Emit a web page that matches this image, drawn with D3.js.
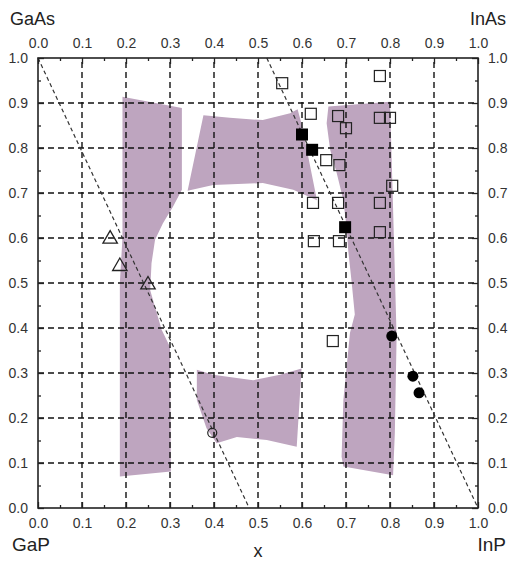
<!DOCTYPE html>
<html>
<head>
<meta charset="utf-8">
<script src="https://cdn.jsdelivr.net/npm/d3@7"></script>
<style>
  body { margin: 0; background: #fff; }
  text { font-family: "Liberation Sans", Arial, sans-serif; fill: #222; }
</style>
</head>
<body>
<div id="chart"></div>
<script>
// tick values, shared by all four axes
var tickValues = [0, 0.1, 0.2, 0.3, 0.4, 0.5, 0.6, 0.7, 0.8, 0.9, 1.0];
var minorTicks = [0.05, 0.15, 0.25, 0.35, 0.45, 0.55, 0.65, 0.75, 0.85, 0.95];

// shaded (miscibility gap) regions, [x, y]
var bandLeft = [[0.192, 0.914], [0.327, 0.889], [0.327, 0.707], [0.307, 0.67], [0.284, 0.633],
  [0.266, 0.596], [0.258, 0.544], [0.255, 0.484], [0.281, 0.396], [0.3, 0.358],
  [0.302, 0.081], [0.186, 0.07], [0.186, 0.5], [0.192, 0.6]];
var bridgeTop = [[0.376, 0.873], [0.436, 0.867], [0.511, 0.862], [0.573, 0.877], [0.59, 0.886],
  [0.6, 0.85], [0.634, 0.684], [0.58, 0.707], [0.511, 0.722], [0.398, 0.718], [0.34, 0.705]];
var bandRight = [[0.66, 0.892], [0.8, 0.903], [0.806, 0.7], [0.815, 0.38], [0.811, 0.167],
  [0.807, 0.073], [0.694, 0.092], [0.69, 0.114], [0.694, 0.24], [0.709, 0.389], [0.72, 0.43],
  [0.713, 0.5], [0.705, 0.573], [0.702, 0.618], [0.694, 0.684], [0.679, 0.744],
  [0.664, 0.796], [0.656, 0.855]];
var bridgeBottom = [[0.361, 0.307], [0.398, 0.296], [0.489, 0.284], [0.55, 0.296], [0.599, 0.31],
  [0.588, 0.136], [0.52, 0.151], [0.452, 0.158], [0.406, 0.144], [0.383, 0.177], [0.361, 0.24]];

// dashed guide lines
var guideA = [[0, 1.0], [0.48, 0.0]];
var guideB = [[0.52, 1.0], [1.0, 0.0]];

// measured points
var openSquares = [[0.555, 0.944], [0.777, 0.96], [0.62, 0.876], [0.682, 0.871], [0.70, 0.844],
  [0.777, 0.867], [0.80, 0.867], [0.655, 0.773], [0.685, 0.762], [0.805, 0.716],
  [0.625, 0.678], [0.682, 0.678], [0.777, 0.678], [0.777, 0.613], [0.627, 0.593],
  [0.684, 0.593], [0.67, 0.371]];
var filledSquares = [[0.6, 0.83], [0.623, 0.796], [0.698, 0.624]];
var filledCircles = [[0.804, 0.382], [0.852, 0.293], [0.866, 0.256]];
var openTriangles = [[0.164, 0.598], [0.186, 0.537], [0.25, 0.496]];
var openCircles = [[0.396, 0.167]];

var W = 511, H = 562;
var mLeft = 38, mTop = 58, pw = 440, ph = 450;

var svg = d3.select("#chart").append("svg")
    .attr("width", W)
    .attr("height", H);

var x = d3.scaleLinear().domain([0, 1]).range([mLeft, mLeft + pw]);
var y = d3.scaleLinear().domain([0, 1]).range([mTop + ph, mTop]);

// shaded regions
var area = d3.line().x(function(d) { return x(d[0]); }).y(function(d) { return y(d[1]); })
    .curve(d3.curveLinearClosed);
svg.append("g").selectAll("path")
    .data([bandLeft, bridgeTop, bandRight, bridgeBottom])
    .enter().append("path")
    .attr("d", area)
    .style("fill", "#bea5bf")
    .style("stroke", "none");

// dashed grid
var inner = tickValues.slice(1, 10);
svg.append("g").selectAll("line.v").data(inner).enter().append("line")
    .attr("x1", function(d) { return x(d); })
    .attr("x2", function(d) { return x(d); })
    .attr("y1", y(0)).attr("y2", y(1))
    .style("stroke", "#111").style("stroke-width", 1.4)
    .style("stroke-dasharray", "6,4");
svg.append("g").selectAll("line.h").data(inner).enter().append("line")
    .attr("y1", function(d) { return y(d); })
    .attr("y2", function(d) { return y(d); })
    .attr("x1", x(0)).attr("x2", x(1))
    .style("stroke", "#111").style("stroke-width", 1.4)
    .style("stroke-dasharray", "6,4");

// diagonal guides
var line = d3.line().x(function(d) { return x(d[0]); }).y(function(d) { return y(d[1]); });
svg.append("g").selectAll("path").data([guideA, guideB]).enter().append("path")
    .attr("d", line)
    .style("fill", "none").style("stroke", "#333").style("stroke-width", 1.2)
    .style("stroke-dasharray", "4,3");

// axes: all ticks point inward
function styleAxis(g) {
  g.select(".domain").remove();
  g.selectAll("line").style("stroke", "#222").style("stroke-width", 1.3);
  g.selectAll("text").style("font-size", "14px").style("fill", "#333");
}
var fmt = d3.format(".1f");

svg.append("g").attr("transform", "translate(0," + y(0) + ")")
    .call(d3.axisBottom(x).tickValues(tickValues).tickFormat(fmt).tickSizeInner(-6).tickSizeOuter(0).tickPadding(10))
    .call(styleAxis);
svg.append("g").attr("transform", "translate(0," + y(1) + ")")
    .call(d3.axisTop(x).tickValues(tickValues).tickFormat(fmt).tickSizeInner(-6).tickSizeOuter(0).tickPadding(10))
    .call(styleAxis);
svg.append("g").attr("transform", "translate(" + x(0) + ",0)")
    .call(d3.axisLeft(y).tickValues(tickValues).tickFormat(fmt).tickSizeInner(-6).tickSizeOuter(0).tickPadding(10))
    .call(styleAxis);
svg.append("g").attr("transform", "translate(" + x(1) + ",0)")
    .call(d3.axisRight(y).tickValues(tickValues).tickFormat(fmt).tickSizeInner(-6).tickSizeOuter(0).tickPadding(10))
    .call(styleAxis);

// minor ticks
[["axisBottom", y(0)], ["axisTop", y(1)]].forEach(function(a) {
  svg.append("g").attr("transform", "translate(0," + a[1] + ")")
      .call(d3[a[0]](x).tickValues(minorTicks).tickFormat("").tickSizeInner(-3).tickSizeOuter(0))
      .call(styleAxis);
});
[["axisLeft", x(0)], ["axisRight", x(1)]].forEach(function(a) {
  svg.append("g").attr("transform", "translate(" + a[1] + ",0)")
      .call(d3[a[0]](y).tickValues(minorTicks).tickFormat("").tickSizeInner(-3).tickSizeOuter(0))
      .call(styleAxis);
});

// frame
svg.append("rect")
    .attr("x", x(0)).attr("y", y(1))
    .attr("width", x(1) - x(0)).attr("height", y(0) - y(1))
    .style("fill", "none").style("stroke", "#222").style("stroke-width", 1.6);

// markers
var sq = 11;
svg.append("g").selectAll("rect").data(openSquares).enter().append("rect")
    .attr("x", function(d) { return x(d[0]) - sq / 2; })
    .attr("y", function(d) { return y(d[1]) - sq / 2; })
    .attr("width", sq).attr("height", sq)
    .style("fill", "none").style("stroke", "#222").style("stroke-width", 1.2);
svg.append("g").selectAll("rect").data(filledSquares).enter().append("rect")
    .attr("x", function(d) { return x(d[0]) - 6; })
    .attr("y", function(d) { return y(d[1]) - 6; })
    .attr("width", 12).attr("height", 12)
    .style("fill", "#000");
svg.append("g").selectAll("circle").data(filledCircles).enter().append("circle")
    .attr("cx", function(d) { return x(d[0]); })
    .attr("cy", function(d) { return y(d[1]); })
    .attr("r", 5.5).style("fill", "#000");
var tri = d3.symbol().type(d3.symbolTriangle).size(90);
svg.append("g").selectAll("path").data(openTriangles).enter().append("path")
    .attr("d", tri)
    .attr("transform", function(d) { return "translate(" + x(d[0]) + "," + y(d[1]) + ")"; })
    .style("fill", "none").style("stroke", "#222").style("stroke-width", 1.3);
svg.append("g").selectAll("circle.o").data(openCircles).enter().append("circle")
    .attr("cx", function(d) { return x(d[0]); })
    .attr("cy", function(d) { return y(d[1]); })
    .attr("r", 4.5).style("fill", "none").style("stroke", "#222").style("stroke-width", 1.2);

// compound labels and axis title
svg.append("text").attr("x", 10).attr("y", 25).style("font-size", "18px").text("GaAs");
svg.append("text").attr("x", 506).attr("y", 25).attr("text-anchor", "end").style("font-size", "18px").text("InAs");
svg.append("text").attr("x", 12).attr("y", 551).style("font-size", "19px").text("GaP");
svg.append("text").attr("x", 506).attr("y", 551).attr("text-anchor", "end").style("font-size", "19px").text("InP");
svg.append("text").attr("x", x(0.5)).attr("y", 557).attr("text-anchor", "middle").style("font-size", "18px").text("x");
</script>
</body>
</html>
